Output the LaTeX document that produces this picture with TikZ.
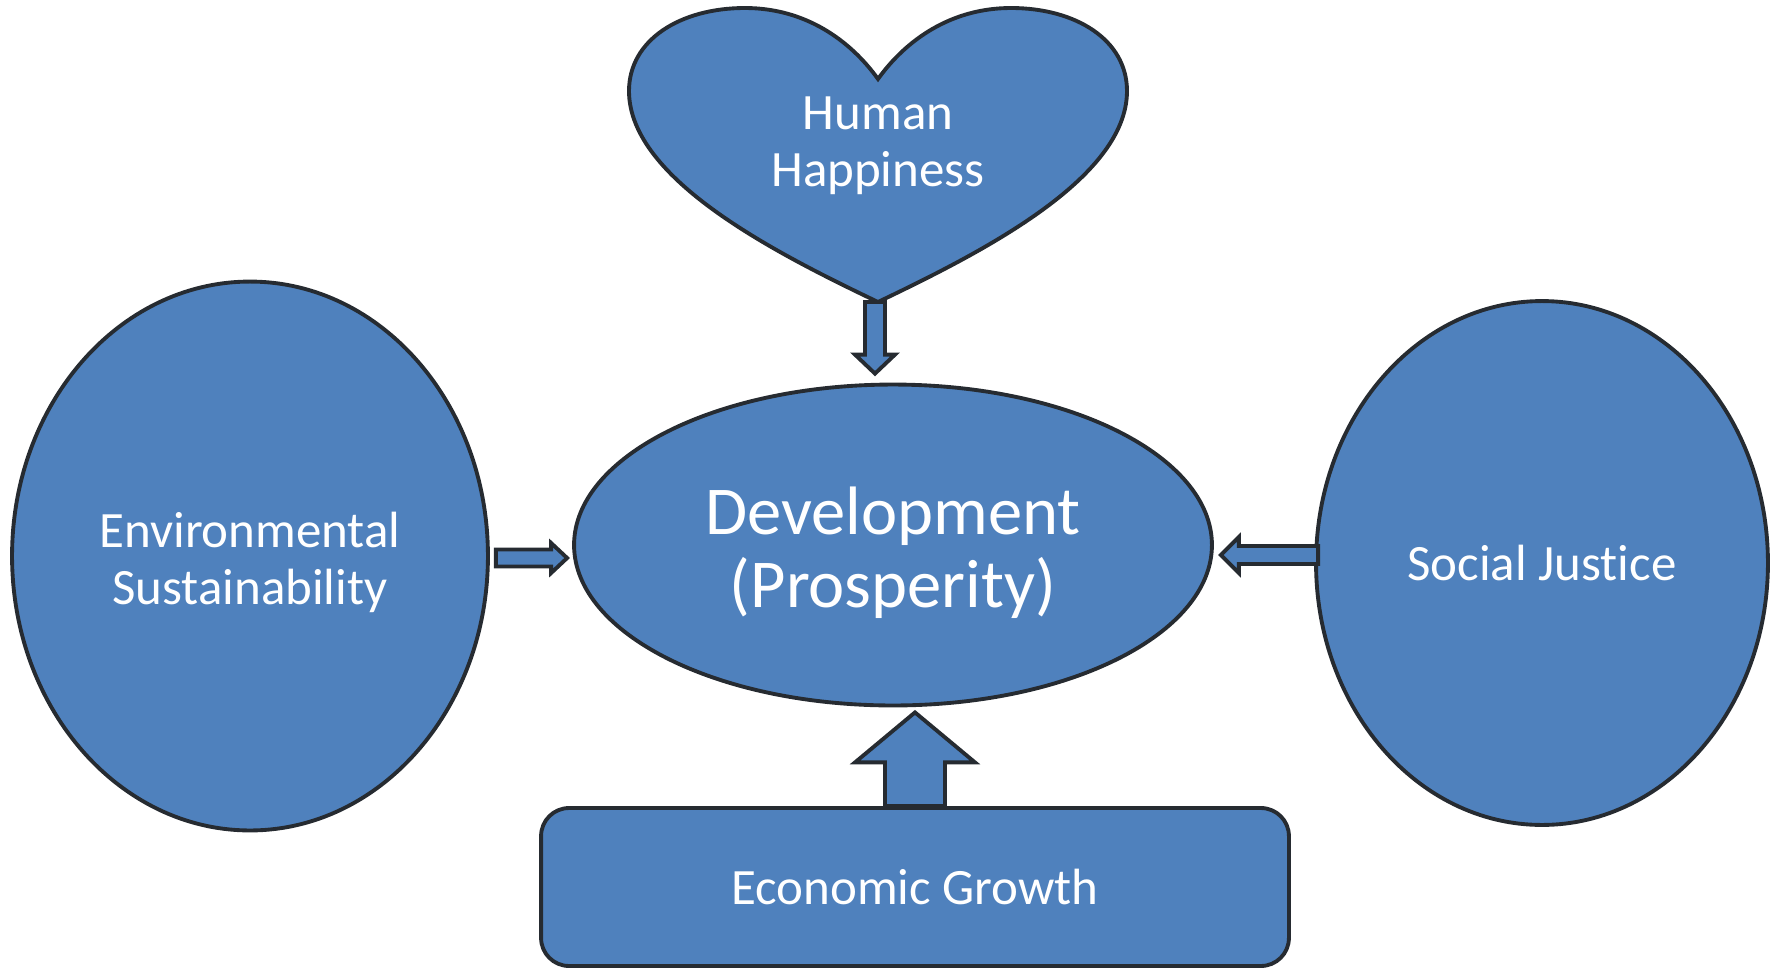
\documentclass[tikz,border=0pt]{standalone}
\usepackage{fontspec}
\setmainfont{Carlito}[RawFeature={-liga;-clig;-calt}]
\usetikzlibrary{shapes.geometric,calc}
\definecolor{fillblue}{HTML}{4F81BD}
\definecolor{rim}{HTML}{262B31}
\begin{document}
\begin{tikzpicture}[x=0.02cm,y=-0.02cm,
    blob/.style={draw=rim,fill=fillblue,line width=2.2pt},
    txt/.style={text=white,align=center,font=\fontsize{29}{32.5}\selectfont},
    barrow/.style={draw=rim,fill=fillblue,line width=2.2pt,line join=miter}]
    \useasboundingbox (0,0) rectangle (1776,968);
    % heart on top
    \draw[blob] (878,79) .. controls (850,40) and (805,8) .. (745,8)
        .. controls (680,8) and (629,40) .. (629,91)
        .. controls (629,180) and (780,255) .. (878,302)
        .. controls (976,255) and (1127,180) .. (1127,91)
        .. controls (1127,40) and (1076,8) .. (1011,8)
        .. controls (951,8) and (906,40) .. (878,79) -- cycle;
    \node[txt] (hh) at (878,146) {Human\\Happiness};
    \node[blob,ellipse,minimum width=12.76cm,minimum height=6.42cm,txt,font=\fontsize{39}{41.5}\selectfont] (dev) at (893,545) {\rule{0pt}{1.25cm}Development\\(Prosperity)};
    \node[blob,ellipse,minimum width=9.52cm,minimum height=10.98cm,txt] (env) at (250,556) {\rule{0pt}{0.95cm}Environmental\\Sustainability};
    \node[blob,ellipse,minimum width=9.04cm,minimum height=10.48cm,txt] (soc) at (1542,563) {Social Justice};
    \node[blob,rectangle,rounded corners=0.56cm,minimum width=14.96cm,minimum height=3.16cm,txt] (eco) at (915,887) {Economic Growth};
    % block arrows
    \coordinate (dA) at (875,302);
    \coordinate (dB) at ($(dev.north)+(-18,-9)$);
    \draw[barrow] ($(dA)+(-10,0)$) -- ($(dB)+(-10,-19)$) -- ($(dB)+(-20,-19)$) -- (dB)
        -- ($(dB)+(20,-19)$) -- ($(dB)+(10,-19)$) -- ($(dA)+(10,0)$) -- cycle;
    \coordinate (uA) at (eco.north);
    \coordinate (uB) at ($(dev.south)+(22,5)$);
    \draw[barrow] ($(uA)+(-30,0)$) -- ($(uB)+(-30,50)$) -- ($(uB)+(-60,50)$) -- (uB)
        -- ($(uB)+(60,50)$) -- ($(uB)+(30,50)$) -- ($(uA)+(30,0)$) -- cycle;
    \coordinate (lA) at ($(env.east)+(6,2)$);
    \coordinate (lB) at ($(dev.west)+(-5,13)$);
    \draw[barrow] ($(lA)+(0,-8.5)$) -- ($(lB)+(-16,-8.5)$) -- ($(lB)+(-16,-15)$) -- (lB)
        -- ($(lB)+(-16,15)$) -- ($(lB)+(-16,8.5)$) -- ($(lA)+(0,8.5)$) -- cycle;
    \coordinate (rA) at ($(soc.west)+(4,-8)$);
    \coordinate (rB) at ($(dev.east)+(7,10)$);
    \draw[barrow] ($(rA)+(0,-9)$) -- ($(rB)+(18,-9)$) -- ($(rB)+(18,-18)$) -- (rB)
        -- ($(rB)+(18,18)$) -- ($(rB)+(18,9)$) -- ($(rA)+(0,9)$) -- cycle;
\end{tikzpicture}
\end{document}
